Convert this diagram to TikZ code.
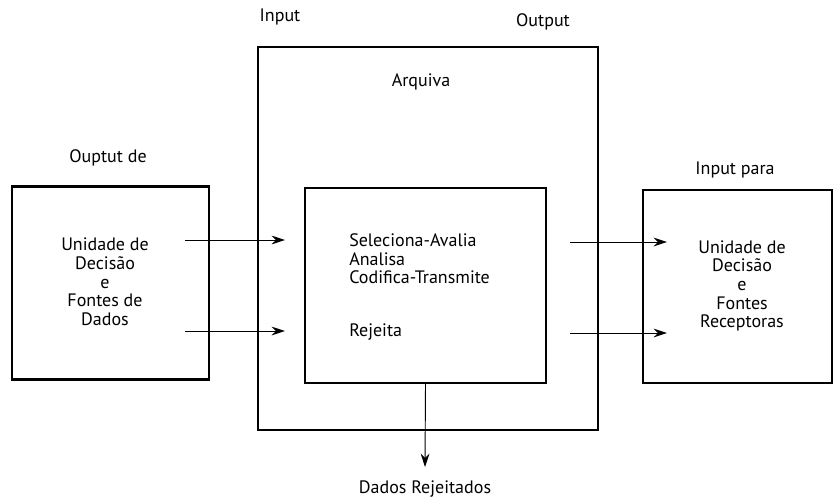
\documentclass[tikz,border=0pt]{standalone}
\usepackage{fontspec}
\setmainfont{PT Sans}
\usetikzlibrary{arrows.meta}
\tikzset{
    caixa/.style={draw, line width=1.6pt, minimum width=0pt, minimum height=0pt, inner sep=0pt},
    seta/.style={-{Stealth[length=10pt,width=6.5pt]}, line width=0.7pt},
    texto/.style={font=\fontsize{13.5}{14}\selectfont, align=center, inner sep=0pt},
}
\newcommand\Caixa[5]{%
    \node[caixa, minimum width=#4*0.75pt, minimum height=#5*0.75pt] (#1) at (#2,#3) {};
}

\begin{document}
\begin{tikzpicture}[x=0.75pt, y=-0.75pt]
    \useasboundingbox (0,0) rectangle (835,497);
    % caixas
    \Caixa{fonte}{110.5}{283}{197}{193}
    \Caixa{arquivo}{428}{238.5}{340}{383}
    \Caixa{nucleo}{425.5}{285.5}{241}{195}
    \Caixa{destino}{737.5}{286.5}{189}{193}
    % rotulos
    \node[texto] (ouptut) at (108,158) {Ouptut de};
    \node[texto] (input) at (280,17) {Input};
    \node[texto] (output) at (543,22) {Output};
    \node[texto] (arquiva) at (421,82) {Arquiva};
    \node[texto] (inputpara) at (735,170) {Input para};
    \node[texto] (txtfonte) at (105,282) {Unidade de\\Decisão\\e\\Fontes de\\Dados};
    \node[texto] (txtdestino) at (742,286) {Unidade de\\Decisão\\e\\Fontes\\Receptoras};
    \node[texto, align=left, anchor=west] (tarefas) at (349,259) {Seleciona-Avalia\\Analisa\\Codifica-Transmite};
    \node[texto, anchor=west] (rejeita) at (349,332) {Rejeita};
    \node[texto] (rejeitados) at (425,489) {Dados Rejeitados};
    % setas
    \coordinate (e1) at (185,240);
    \coordinate (e2) at (185,331);
    \coordinate (s1) at (570,242);
    \coordinate (s2) at (570,333);
    \draw[seta] (e1) -- (285,240);
    \draw[seta] (e2) -- (285,331);
    \draw[seta] (s1) -- (667,242);
    \draw[seta] (s2) -- (667,333);
    \draw[seta] (nucleo.south) -- (425,467);
\end{tikzpicture}
\end{document}
